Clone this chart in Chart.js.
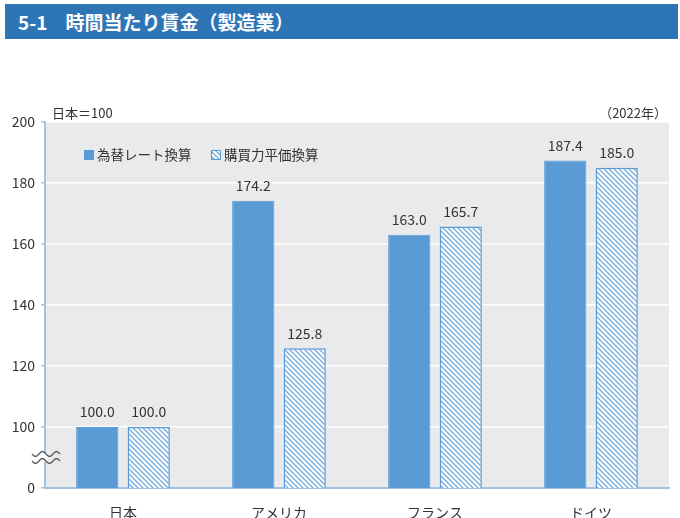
<!DOCTYPE html>
<html>
<head>
<meta charset="utf-8">
<script src="https://cdn.jsdelivr.net/npm/chart.js@4"></script>
<style>
  body { margin: 0; background: #fff; }
  #wrap { position: relative; width: 680px; height: 518px; }
  #title {
    position: absolute; left: 5px; top: 4px; width: 673px; height: 35px;
    background: #2e75b6; color: #fff;
    font: bold 19px "Noto Sans CJK JP", sans-serif;
    line-height: 35px; box-sizing: border-box; padding-left: 13px;
  }
  #title span { margin-left: 18px; }
  canvas { position: absolute; left: 0; top: 0; }
</style>
</head>
<body>
<div id="wrap">
  <div id="title">5-1<span>時間当たり賃金（製造業）</span></div>
  <canvas id="wageChart" width="680" height="518"></canvas>
</div>
<script>
// countries and the two series (Japan = 100)
const countries = ['日本', 'アメリカ', 'フランス', 'ドイツ'];
const exchangeRate = [100.0, 174.2, 163.0, 187.4];
const ppp = [100.0, 125.8, 165.7, 185.0];
const seriesNames = ['為替レート換算', '購買力平価換算'];
const yTicks = [0, 100, 120, 140, 160, 180, 200];

const blue = '#5b9bd5';
const font = '"Noto Sans CJK JP", "Noto Sans", sans-serif';

// hatch pattern for the ppp bars, lines going top-left to bottom-right
function makeHatch() {
    const s = 5;
    const c = document.createElement('canvas');
    c.width = s; c.height = s;
    const g = c.getContext('2d');
    g.fillStyle = '#fff';
    g.fillRect(0, 0, s, s);
    g.strokeStyle = '#7db0e0';
    g.lineWidth = 1.5;
    g.beginPath();
    g.moveTo(-1, -1); g.lineTo(s + 1, s + 1);
    g.moveTo(-1, s - 1); g.lineTo(1, s + 1);
    g.moveTo(s - 1, -1); g.lineTo(s + 1, 1);
    g.stroke();
    return g.createPattern(c, 'repeat');
}

var canvas = document.getElementById('wageChart');
var ctx = canvas.getContext('2d');
var hatch = makeHatch();

// the axis is broken: everything below 100 is squeezed into one step, shown as 0
const axisBottom = 80;

// grey plot background
const plotBg = {
    id: 'plotBg',
    beforeDraw(chart) {
        const a = chart.chartArea;
        const c = chart.ctx;
        c.save();
        c.fillStyle = '#e8eaec';
        c.fillRect(a.left, a.top, a.right - a.left, a.bottom - a.top);
        c.restore();
    }
};

// value labels, legend, notes and the axis break mark
const extras = {
    id: 'extras',
    afterDatasetsDraw(chart) {
        const c = chart.ctx;
        c.save();
        c.font = '14px ' + font;
        c.fillStyle = '#333';
        c.textAlign = 'center';
        c.textBaseline = 'bottom';
        chart.data.datasets.forEach((ds, i) => {
            chart.getDatasetMeta(i).data.forEach((bar, j) => {
                c.fillText(ds.data[j].toFixed(1), bar.x, bar.y - 8);
            });
        });
        c.restore();
    },
    afterDraw(chart) {
        const c = chart.ctx;
        const a = chart.chartArea;
        const y = chart.scales.y;
        c.save();

        // legend inside the plot
        c.font = '13.5px ' + font;
        c.textBaseline = 'middle';
        c.textAlign = 'left';
        const ly = a.top + 33;
        const items = [[84, blue], [211, hatch]];
        items.forEach((it, i) => {
            c.fillStyle = it[1];
            c.fillRect(it[0], ly - 5, 10, 10);
            c.strokeStyle = blue;
            c.lineWidth = 1;
            c.strokeRect(it[0] + 0.5, ly - 4.5, 9, 9);
            c.fillStyle = '#333';
            c.fillText(seriesNames[i], it[0] + 13, ly);
        });

        // notes above the plot
        c.font = '13px ' + font;
        c.textBaseline = 'bottom';
        c.fillText('日本＝100', 52, a.top - 2);
        c.textAlign = 'right';
        c.fillText('（2022年）', a.right - 2, a.top - 2);

        // axis break
        const mid = (y.getPixelForValue(axisBottom) + y.getPixelForValue(100)) / 2;
        c.fillStyle = '#fff';
        c.fillRect(a.left - 3, mid - 4, 6, 8);
        c.strokeStyle = '#555';
        c.lineWidth = 1.3;
        [-3.5, 3.5].forEach(off => {
            c.beginPath();
            for (let x = 32; x <= 60; x++) {
                const yy = mid + off + 2.5 * Math.sin((x - 32) / 28 * 4 * Math.PI);
                if (x === 32) c.moveTo(x, yy); else c.lineTo(x, yy);
            }
            c.stroke();
        });
        c.restore();
    }
};

new Chart(ctx, {
    type: 'bar',
    data: {
        labels: countries,
        datasets: [
            {
                label: seriesNames[0],
                data: exchangeRate,
                backgroundColor: blue,
                borderColor: blue,
                borderWidth: 1
            },
            {
                label: seriesNames[1],
                data: ppp,
                backgroundColor: hatch,
                borderColor: blue,
                borderWidth: 1.5
            }
        ]
    },
    options: {
        responsive: false,
        animation: false,
        categoryPercentage: 0.66,
        barPercentage: 0.82,
        layout: { padding: { top: 122, right: 11, left: 0, bottom: 0 } },
        plugins: {
            legend: { display: false },
            tooltip: { enabled: false }
        },
        scales: {
            x: {
                afterFit(scale) { scale.height = 30; },
                grid: { display: false },
                border: { color: '#9dc3e6', width: 2 },
                ticks: { color: '#333', font: { family: font, size: 14 }, padding: 8 }
            },
            y: {
                min: axisBottom,
                max: 200,
                afterFit(scale) { scale.width = 45; },
                afterBuildTicks(scale) {
                    // tick labels use the broken-axis positions
                    scale.ticks = yTicks.map(v => ({ value: v === 0 ? axisBottom : v }));
                },
                grid: {
                    color: ctx => ctx.tick && ctx.tick.value === axisBottom ? 'rgba(0,0,0,0)' : '#fff',
                    lineWidth: 1.5,
                    tickColor: '#9dc3e6',
                    tickLength: 4
                },
                border: { color: '#9dc3e6', width: 2 },
                ticks: {
                    color: '#333',
                    font: { family: font, size: 14 },
                    padding: 6,
                    callback: v => v === axisBottom ? '0' : v
                }
            }
        }
    },
    plugins: [plotBg, extras]
});
</script>
</body>
</html>
